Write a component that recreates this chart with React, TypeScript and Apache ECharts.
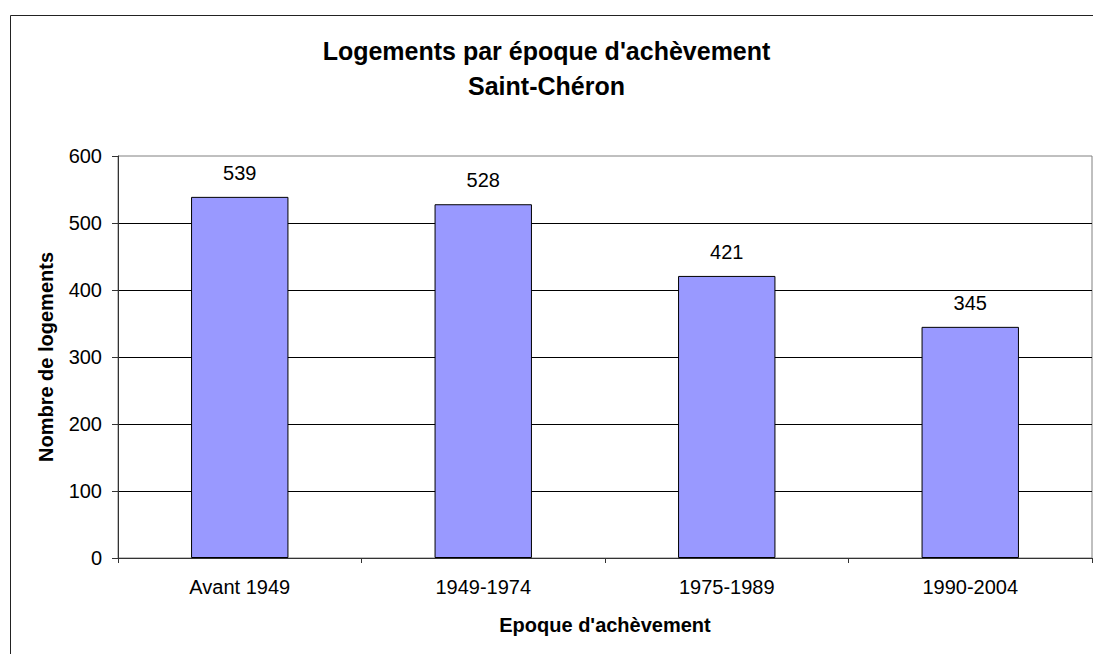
import React, { useEffect, useRef } from "react";
import * as echarts from "echarts";

const categories = ["Avant 1949", "1949-1974", "1975-1989", "1990-2004"];
const logements = [539, 528, 421, 345];
const titleLines = ["Logements par époque d'achèvement", "Saint-Chéron"];
const yAxisName = "Nombre de logements";
const xAxisName = "Epoque d'achèvement";

const FONT = "'Liberation Sans', Arial, sans-serif";

export default function App() {
  const ref = useRef<HTMLDivElement>(null);
  useEffect(() => {
    if (!ref.current) return;
    const chart = echarts.init(ref.current, undefined, { renderer: "svg" });
    chart.setOption({
      animation: false,
      backgroundColor: "#ffffff",
      textStyle: { fontFamily: FONT },
      title: {
        text: titleLines.join("\n"),
        left: "center",
        top: 33,
        padding: 0,
        itemGap: 0,
        textStyle: {
          fontFamily: FONT,
          fontSize: 25,
          fontWeight: "bold",
          color: "#000",
          lineHeight: 35,
        },
      },
      graphic: [
        {
          type: "rect",
          silent: true,
          shape: { x: 10.5, y: 15.5, width: 1200, height: 1000 },
          style: { fill: "none", stroke: "#222", lineWidth: 1 },
          z: 100,
        },
      ],
      grid: {
        left: 118,
        right: 1,
        top: 156,
        bottom: 96,
        show: true,
        borderColor: "#808080",
        borderWidth: 1,
        backgroundColor: "#ffffff",
      },
      xAxis: {
        type: "category",
        data: categories,
        name: xAxisName,
        nameLocation: "middle",
        nameGap: 57,
        nameTextStyle: { fontFamily: FONT, fontSize: 20, fontWeight: "bold", color: "#000" },
        axisLine: { lineStyle: { color: "#333", width: 1 } },
        axisTick: { show: true, length: 5, inside: false, alignWithLabel: false, lineStyle: { color: "#333" } },
        axisLabel: { fontFamily: FONT, fontSize: 20, color: "#000", margin: 19 },
        splitLine: { show: false },
      },
      yAxis: {
        type: "value",
        min: 0,
        max: 600,
        interval: 100,
        name: yAxisName,
        nameLocation: "middle",
        nameGap: 62,
        nameTextStyle: { fontFamily: FONT, fontSize: 20, fontWeight: "bold", color: "#000" },
        axisLine: { show: true, lineStyle: { color: "#333", width: 1 } },
        axisTick: { show: true, length: 6, inside: false, lineStyle: { color: "#333" } },
        axisLabel: { fontFamily: FONT, fontSize: 20, color: "#000", margin: 16 },
        splitLine: { show: true, showMaxLine: false, lineStyle: { color: "#000", width: 1 } },
      },
      series: [
        {
          type: "bar",
          data: logements,
          barWidth: "40%",
          itemStyle: { color: "#9999FF", borderColor: "#000", borderWidth: 1 },
          label: {
            show: true,
            position: "top",
            distance: 14,
            fontFamily: FONT,
            fontSize: 20,
            color: "#000",
          },
        },
      ],
    });
    return () => chart.dispose();
  }, []);
  return (
    <div
      ref={ref}
      style={{ position: "fixed", left: 0, top: 0, width: 1093, height: 654 }}
    />
  );
}
